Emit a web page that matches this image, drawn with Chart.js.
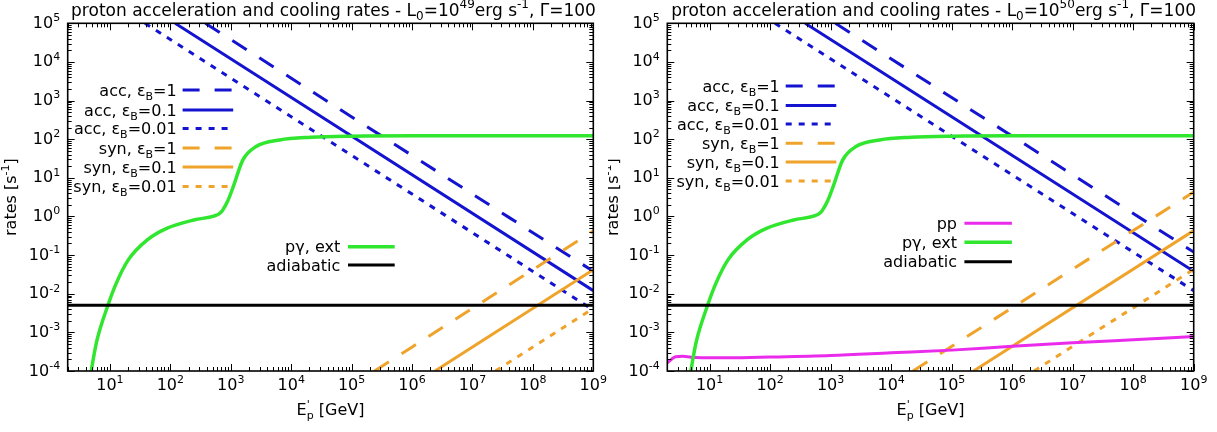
<!DOCTYPE html>
<html>
<head>
<meta charset="utf-8">
<script src="https://cdn.jsdelivr.net/npm/chart.js@4.4.1/dist/chart.umd.min.js"></script>
<style>
  body { margin:0; background:#fff; width:1217px; height:432px; overflow:hidden; position:relative; }
  .panel { position:absolute; top:0; height:432px; }
</style>
</head>
<body>
<div class="panel" style="left:0;width:608px"><canvas id="chartLeft" width="608" height="432"></canvas></div>
<div class="panel" style="left:608px;width:609px"><canvas id="chartRight" width="609" height="432"></canvas></div>
<script>
// proton acceleration / cooling rates, two panels (L0 = 1e49 and 1e50 erg/s)

// ---------- axes ----------
const xMin = 2, xMax = 1e9;
const yMin = 1e-4, yMax = 1e5;
const xTickExp = [1, 2, 3, 4, 5, 6, 7, 8, 9];
const yTickExp = [-4, -3, -2, -1, 0, 1, 2, 3, 4, 5];

// ---------- left panel, L0=1e49 ----------
const accB1E_L = [380, 1e9],   accB1R_L = [1e5, 0.038];
const accB01E_L = [120, 1e9],  accB01R_L = [1e5, 0.012];
const accB001E_L = [38, 1e9],  accB001R_L = [1e5, 0.0038];
const synB1E_L = [2.4e5, 1e9], synB1R_L = [1e-4, 0.42];
const synB01E_L = [2.4e6, 1e9], synB01R_L = [1e-4, 0.042];
const synB001E_L = [2.4e7, 1e9], synB001R_L = [1e-4, 0.0042];

// ---------- right panel, L0=1e50 ----------
const accB1E_R = [1200, 1e9],  accB1R_R = [1e5, 0.12];
const accB01E_R = [380, 1e9],  accB01R_R = [1e5, 0.038];
const accB001E_R = [120, 1e9], accB001R_R = [1e5, 0.012];
const synB1E_R = [2.3e4, 1e9], synB1R_R = [1e-4, 4.3];
const synB01E_R = [2.3e5, 1e9], synB01R_R = [1e-4, 0.43];
const synB001E_R = [2.3e6, 1e9], synB001R_R = [1e-4, 0.043];

const ppE = [2, 2.75, 3.55, 5.9, 21, 100, 1e3, 1e4, 1e5, 1e6, 1e7, 1e8, 1e9];
const ppR = [1.62e-4, 2.34e-4, 2.40e-4, 2.24e-4, 2.19e-4, 2.29e-4, 2.51e-4, 2.95e-4, 3.47e-4, 4.37e-4, 5.37e-4, 6.46e-4, 7.76e-4];

// p-gamma on external photons (same in both panels)
const pgE = [4.0, 4.9, 6.0, 9.3, 12.6, 20, 42, 87, 245, 525, 630, 724, 890, 1100, 1580, 2630, 6460, 21400, 1e5, 1e6, 1e9];
const pgR = [1.3e-5, 1.0e-4, 5.6e-4, 5.1e-3, 1.8e-2, 7.4e-2, 0.25, 0.49, 0.81, 1.02, 1.15, 1.41, 2.5, 5.9, 28.8, 64.6, 95.5, 112, 120, 123, 123];

const adiaE = [2, 1e9];
const adiaR = [5.0e-3, 5.0e-3];

// ---------- styles ----------
const FONT = '"DejaVu Sans", sans-serif';
const BLUE = '#1414d0', ORANGE = '#f0a32a', GREEN = '#30e62e', MAGENTA = '#eb2beb';
const DASH = [17, 15], DOT = [6, 7];

function line(label, E, R, color, dash, order, width){
  return {
    label, data: E.map((e,i)=>({x:e, y:R[i]})),
    borderColor: color, backgroundColor: color, borderDash: dash || [],
    borderWidth: width || 3, pointRadius: 0, order, clip: 0,
    cubicInterpolationMode: 'monotone', borderCapStyle: 'butt'
  };
}

// parse "a_{b}^{c}" into parts
function richParts(str){
  const out = []; const re = /([_^])\{([^}]*)\}/g; let last = 0, m;
  while((m = re.exec(str))){
    if(m.index > last) out.push({t:str.slice(last, m.index), s:0});
    out.push({t:m[2], s: m[1]==='^' ? 1 : -1});
    last = re.lastIndex;
  }
  if(last < str.length) out.push({t:str.slice(last), s:0});
  return out;
}
function drawRich(ctx, str, x, y, size, align){
  const parts = richParts(str);
  const f = s => `${s ? Math.round(size*0.68) : size}px ${FONT}`;
  let w = 0;
  parts.forEach((p,i)=>{
    ctx.font = f(p.s); p.w = ctx.measureText(p.t).width;
    // sub right after a sup is stacked under it
    const prev = parts[i-1];
    if(p.s === -1 && prev && prev.s === 1){ p.back = prev.w; w += Math.max(0, p.w - prev.w); }
    else w += p.w;
  });
  let cx = align === 'right' ? x - w : align === 'center' ? x - w/2 : x;
  ctx.textAlign = 'left'; ctx.textBaseline = 'alphabetic';
  parts.forEach(p=>{
    if(p.back) cx -= p.back;
    ctx.font = f(p.s);
    const dy = p.s === 1 ? -size*0.42 : p.s === -1 ? size*0.27 : 0;
    ctx.fillText(p.t, cx, y + dy);
    cx += p.back ? Math.max(p.w, p.back) : p.w;
  });
  return w;
}

// gnuplot-like frame: inward ticks, labels, titles, keys
const gnuFrame = {
  id: 'gnuframe',
  afterDatasetsDraw(chart, args, o){
    const {ctx, chartArea:a, scales:{x, y}} = chart;
    ctx.save();
    ctx.strokeStyle = '#000';
    ctx.lineWidth = 1;
    ctx.beginPath();
    for(let d = 0; d <= 9; d++) for(let m = 1; m <= 9; m++){
      const v = m * Math.pow(10, d);
      if(v < xMin || v > xMax) continue;
      const px = Math.round(x.getPixelForValue(v)) + 0.5, len = m === 1 ? 7 : 4;
      ctx.moveTo(px, a.bottom); ctx.lineTo(px, a.bottom - len);
      ctx.moveTo(px, a.top); ctx.lineTo(px, a.top + len);
    }
    for(let d = -4; d <= 5; d++) for(let m = 1; m <= 9; m++){
      const v = m * Math.pow(10, d);
      if(v < yMin*0.999 || v > yMax*1.001) continue;
      const py = Math.round(y.getPixelForValue(v)) + 0.5, len = m === 1 ? 7 : 4;
      ctx.moveTo(a.left, py); ctx.lineTo(a.left + len, py);
      ctx.moveTo(a.right, py); ctx.lineTo(a.right - len, py);
    }
    ctx.stroke();
    ctx.lineWidth = 1.6;
    ctx.strokeRect(a.left, a.top, a.right - a.left, a.bottom - a.top);

    ctx.fillStyle = '#000';
    xTickExp.forEach(n => drawRich(ctx, `10^{${n}}`, x.getPixelForValue(Math.pow(10, n)), 390, 16, 'center'));
    yTickExp.forEach(n => drawRich(ctx, `10^{${n}}`, a.left - 7.5, y.getPixelForValue(Math.pow(10, n)) + 4.5, 16, 'right'));

    drawRich(ctx, o.title, o.titleX, 15.5, 17, 'center');
    drawRich(ctx, "E^{'}_{p} [GeV]", (a.left + a.right)/2, 415, 16, 'center');
    ctx.save();
    ctx.translate(o.yLabelX, (a.top + a.bottom)/2);
    ctx.rotate(-Math.PI/2);
    drawRich(ctx, 'rates [s^{-1}]', 0, 0, 16, 'center');
    ctx.restore();

    // keys
    o.keys.forEach(k=>{
      k.items.forEach((idx, r)=>{
        const ds = chart.data.datasets[idx], yy = k.rows[r];
        ctx.fillStyle = '#000';
        drawRich(ctx, ds.label, k.textRight, yy + 5.5, 16, 'right');
        ctx.strokeStyle = ds.borderColor;
        ctx.lineWidth = ds.borderWidth;
        ctx.setLineDash(ds.borderDash);
        ctx.beginPath(); ctx.moveTo(k.x0, yy); ctx.lineTo(k.x1, yy); ctx.stroke();
        ctx.setLineDash([]);
      });
    });
    ctx.restore();
  }
};

function makeChart(id, datasets, padding, frameOpts){
  return new Chart(document.getElementById(id), {
    type: 'line',
    data: { datasets },
    options: {
      responsive: false, animation: false,
      layout: { padding },
      scales: {
        x: { type:'logarithmic', min:xMin, max:xMax, display:false },
        y: { type:'logarithmic', min:yMin, max:yMax, display:false }
      },
      plugins: { legend:{display:false}, tooltip:{enabled:false}, gnuframe: frameOpts }
    },
    plugins: [gnuFrame]
  });
}

// ---------- left ----------
makeChart('chartLeft', [
  line('acc, ε_{B}=1', accB1E_L, accB1R_L, BLUE, DASH, 9),
  line('acc, ε_{B}=0.1', accB01E_L, accB01R_L, BLUE, null, 8),
  line('acc, ε_{B}=0.01', accB001E_L, accB001R_L, BLUE, DOT, 7),
  line('syn, ε_{B}=1', synB1E_L, synB1R_L, ORANGE, DASH, 6),
  line('syn, ε_{B}=0.1', synB01E_L, synB01R_L, ORANGE, null, 5),
  line('syn, ε_{B}=0.01', synB001E_L, synB001R_L, ORANGE, DOT, 4),
  line('pγ, ext', pgE, pgR, GREEN, null, 2, 3.5),
  line('adiabatic', adiaE, adiaR, '#000', null, 1, 3)
], {left:67.7, right:14.7, top:23.3, bottom:61}, {
  title: 'proton acceleration and cooling rates - L_{0}=10^{49}erg s^{-1}, Γ=100',
  titleX: 333.5, yLabelX: 16,
  keys: [
    {textRight:176.7, x0:182.6, x1:233.2, rows:[90, 110, 128.5, 148, 167, 186.5], items:[0,1,2,3,4,5]},
    {textRight:340.2, x0:348, x1:394.7, rows:[246.7, 265], items:[6,7]}
  ]
});

// ---------- right ----------
makeChart('chartRight', [
  line('acc, ε_{B}=1', accB1E_R, accB1R_R, BLUE, DASH, 9),
  line('acc, ε_{B}=0.1', accB01E_R, accB01R_R, BLUE, null, 8),
  line('acc, ε_{B}=0.01', accB001E_R, accB001R_R, BLUE, DOT, 7),
  line('syn, ε_{B}=1', synB1E_R, synB1R_R, ORANGE, DASH, 6),
  line('syn, ε_{B}=0.1', synB01E_R, synB01R_R, ORANGE, null, 5),
  line('syn, ε_{B}=0.01', synB001E_R, synB001R_R, ORANGE, DOT, 4),
  line('pp', ppE, ppR, MAGENTA, null, 3, 3),
  line('pγ, ext', pgE, pgR, GREEN, null, 2, 3.5),
  line('adiabatic', adiaE, adiaR, '#000', null, 1, 3)
], {left:59.3, right:23.3, top:23.3, bottom:61}, {
  title: 'proton acceleration and cooling rates - L_{0}=10^{50}erg s^{-1}, Γ=100',
  titleX: 325.6, yLabelX: 10,
  keys: [
    {textRight:171.8, x0:177.7, x1:228.3, rows:[86, 105.5, 124, 143.3, 162, 181], items:[0,1,2,3,4,5]},
    {textRight:349, x0:356.4, x1:403.9, rows:[223.3, 242.3, 261.7], items:[6,7,8]}
  ]
});
</script>
</body>
</html>
